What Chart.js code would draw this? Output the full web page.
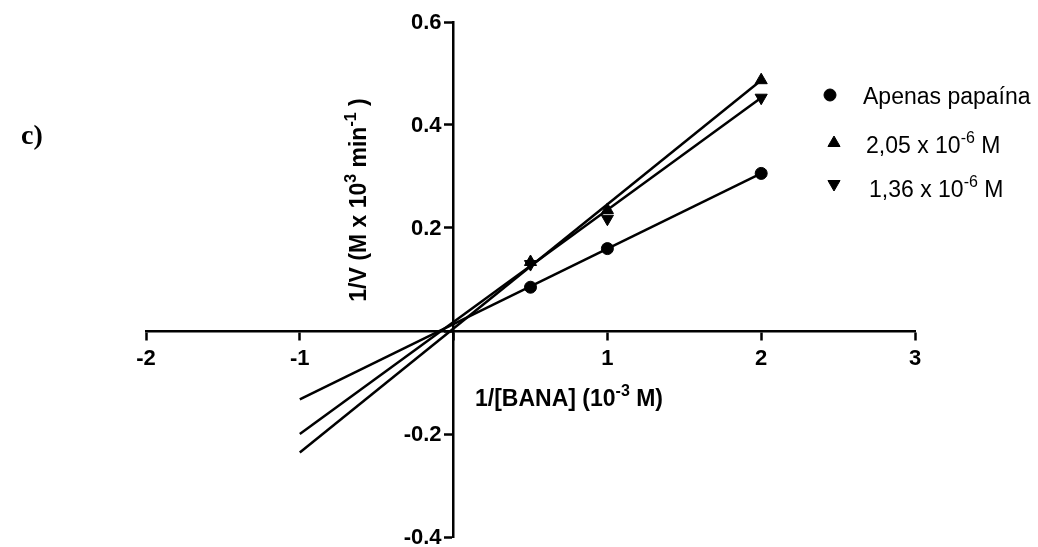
<!DOCTYPE html>
<html>
<head>
<meta charset="utf-8">
<script src="https://cdn.jsdelivr.net/npm/chart.js@4/dist/chart.umd.min.js"></script>
<style>
  body { margin: 0; background: #fff; }
  #wrap { position: relative; width: 1038px; height: 547px; }
</style>
</head>
<body>
<div id="wrap"><canvas id="graph" width="1038" height="547"></canvas></div>
<script>
'use strict'

// measured points
let xVals = [0.5, 1, 2];
let papainaY = [0.085, 0.160, 0.306];
let c205Y = [0.134, 0.235, 0.487];
let c136Y = [0.130, 0.218, 0.453];

// fitted lines, read at both ends
let fitX = [-1, 2];
let papainaFit = [-0.133, 0.306];
let c205Fit = [-0.236, 0.487];
let c136Fit = [-0.200, 0.453];

let xTicks = [-2, -1, 0, 1, 2, 3];
let yTicks = [-0.4, -0.2, 0, 0.2, 0.4, 0.6];

let seriesNames = [
    [{t: 'Apenas papaína'}],
    [{t: '2,05 x 10'}, {t: '-6', sup: true}, {t: ' M'}],
    [{t: '1,36 x 10'}, {t: '-6', sup: true}, {t: ' M'}]
];
let xTitle = [{t: '1/[BANA] (10'}, {t: '-3', sup: true}, {t: ' M)'}];
let yTitle = [{t: '1/V (M x 10'}, {t: '3', sup: true}, {t: ' min'}, {t: '-1', sup: true}, {t: ' )'}];

const FONT = '"Liberation Sans", Arial, sans-serif';

function pts (xs, ys) {
    return xs.map((x, i) => ({x: x, y: ys[i]}));
}

function lineSet (ys) {
    return {
        data: pts(fitX, ys),
        showLine: true,
        borderColor: '#000',
        borderWidth: 2.5,
        pointRadius: 0,
        fill: false
    };
}

function markSet (ys, style, rot, r) {
    return {
        data: pts(xVals, ys),
        showLine: false,
        pointStyle: style,
        rotation: rot,
        pointRadius: r,
        backgroundColor: '#000',
        borderColor: '#000',
        borderWidth: 1
    };
}

// draws text with superscript parts, returns width
function richText (ctx, parts, x, y, size, weight) {
    let cx = x;
    for (let p of parts) {
        let s = p.sup ? Math.round(size * 0.7) : size;
        ctx.font = `${weight} ${s}px ${FONT}`;
        ctx.fillText(p.t, cx, p.sup ? y - size * 0.42 : y);
        cx += ctx.measureText(p.t).width;
    }
    return cx - x;
}

function richWidth (ctx, parts, size, weight) {
    let w = 0;
    for (let p of parts) {
        let s = p.sup ? Math.round(size * 0.7) : size;
        ctx.font = `${weight} ${s}px ${FONT}`;
        w += ctx.measureText(p.t).width;
    }
    return w;
}

let extras = {
    id: 'extras',
    afterDraw (chart) {
        let ctx = chart.ctx;
        let xs = chart.scales.x;
        let ys = chart.scales.y;
        ctx.save();
        ctx.fillStyle = '#000';

        // y tick labels, left of the centred axis
        let axisX = xs.getPixelForValue(0);
        ctx.font = `bold 22px ${FONT}`;
        ctx.textAlign = 'right';
        ctx.textBaseline = 'middle';
        yTicks.forEach(v => {
            if (Math.abs(v) < 1e-9) return;
            ctx.fillText(v.toFixed(1), axisX - 12, ys.getPixelForValue(v) + 1);
        });

        ctx.textBaseline = 'alphabetic';
        ctx.textAlign = 'left';

        // panel letter
        ctx.font = 'bold 28px "Liberation Serif", "Times New Roman", serif';
        ctx.fillText('c)', 21, 144);

        // x title
        richText(ctx, xTitle, 475, 406, 23, 'bold');

        // y title, rotated
        let w = richWidth(ctx, yTitle, 23, 'bold');
        ctx.save();
        ctx.translate(366, 200);
        ctx.rotate(-Math.PI / 2);
        richText(ctx, yTitle, -w / 2, 0, 23, 'bold');
        ctx.restore();

        // legend
        let rows = [
            {mx: 830, my: 95, tx: 863, ty: 104},
            {mx: 834, my: 143, tx: 866, ty: 153},
            {mx: 834, my: 184, tx: 869, ty: 197}
        ];
        let marks = chart.data.datasets.filter(d => !d.showLine);
        rows.forEach((r, i) => {
            let d = marks[i];
            if (Chart.helpers && Chart.helpers.drawPoint) {
                ctx.fillStyle = '#000';
                ctx.strokeStyle = '#000';
                ctx.lineWidth = 1;
                Chart.helpers.drawPoint(ctx, {pointStyle: d.pointStyle, radius: d.pointRadius, rotation: d.rotation, borderWidth: 1}, r.mx, r.my);
            }
            ctx.fillStyle = '#000';
            ctx.textAlign = 'left';
            richText(ctx, seriesNames[i], r.tx, r.ty, 23, 'normal');
        });
        ctx.restore();
    }
};

new Chart('graph', {
    type: 'scatter',
    data: {
        datasets: [
            lineSet(papainaFit),
            lineSet(c205Fit),
            lineSet(c136Fit),
            markSet(papainaY, 'circle', 0, 6),
            markSet(c205Y, 'triangle', 0, 7),
            markSet(c136Y, 'triangle', 180, 7)
        ]
    },
    options: {
        responsive: false,
        animation: false,
        layout: {
            padding: {left: 146, right: 123, top: 22, bottom: 10}
        },
        plugins: {
            legend: {display: false},
            tooltip: {enabled: false}
        },
        scales: {
            x: {
                type: 'linear',
                position: {y: 0},
                min: xTicks[0],
                max: xTicks[xTicks.length - 1],
                afterBuildTicks: s => { s.ticks = xTicks.map(v => ({value: v})); },
                grid: {display: true, drawOnChartArea: false, drawTicks: true, tickLength: 8, tickWidth: 2.5, tickColor: '#000'},
                border: {display: true, color: '#000', width: 2.5},
                ticks: {
                    color: '#000',
                    padding: 7,
                    font: {family: FONT, size: 22, weight: 'bold'},
                    callback: v => Math.abs(v) < 1e-9 ? '' : String(v)
                }
            },
            y: {
                type: 'linear',
                position: {x: 0},
                min: yTicks[0],
                max: yTicks[yTicks.length - 1],
                afterBuildTicks: s => { s.ticks = yTicks.map(v => ({value: v})); },
                grid: {display: true, drawOnChartArea: false, drawTicks: true, tickLength: 8, tickWidth: 2.5, tickColor: '#000'},
                border: {display: true, color: '#000', width: 2.5},
                ticks: {display: false}
            }
        }
    },
    plugins: [extras]
});
</script>
</body>
</html>
